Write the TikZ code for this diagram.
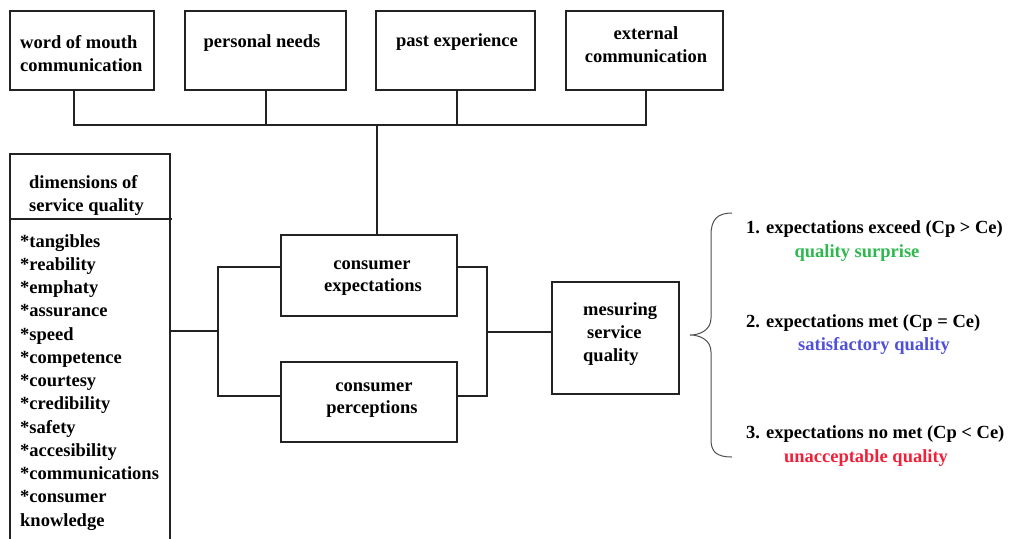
\documentclass[tikz,border=0pt]{standalone}
\usepackage{fontspec}
\setmainfont{Liberation Serif}
\definecolor{qgreen}{HTML}{2FB84F}
\definecolor{qblue}{HTML}{5050D8}
\definecolor{qred}{HTML}{F0203A}
\definecolor{ln}{HTML}{222222}
\begin{document}
\begin{tikzpicture}[x=1pt,y=-1pt,
  box/.style={draw=ln,line width=1.2pt,inner sep=0,fill=none},
  wire/.style={draw=ln,line width=1.2pt},
  lbl/.style={anchor=base,inner sep=0,font=\fontsize{18.5}{23}\selectfont\bfseries},
  lbw/.style={lbl,anchor=base west}]
\useasboundingbox (0,0) rectangle (1011,538);
% top boxes
\node[box,minimum width=144pt,minimum height=79pt] (b1) at (82,50.5) {};
\node[box,minimum width=161pt,minimum height=79pt] (b2) at (265.5,50.5) {};
\node[box,minimum width=159pt,minimum height=79pt] (b3) at (455.5,50.5) {};
\node[box,minimum width=157pt,minimum height=79pt] (b4) at (644.5,50.5) {};
\node[lbw] (t1a) at (20,48) {word of mouth};
\node[lbw] (t1b) at (20,71) {communication};
\node[lbl] (t2) at (262,47) {personal needs};
\node[lbl] (t3) at (457,46) {past experience};
\node[lbl] (t4a) at (646,39) {external};
\node[lbl] (t4b) at (646,62) {communication};
% joins
\coordinate (d1) at (74,125);
\coordinate (d2) at (266,125);
\coordinate (d3) at (457,125);
\coordinate (d4) at (646,125);
\coordinate (dm) at (377,125);
\draw[wire] (b1.south -| d1) -- (d1) -- (d4) -- (b4.south -| d4);
\draw[wire] (b2.south -| d2) -- (d2);
\draw[wire] (b3.south -| d3) -- (d3);
% dimensions box
\node[box,minimum width=160pt,minimum height=391pt] (dim) at (90,349.5) {};
\coordinate (hs) at (172,219);
\draw[wire] (dim.west |- hs) -- (hs);
\node[lbw] (h1) at (29,188) {dimensions of};
\node[lbw] (h2) at (29,211) {service quality};
\foreach \t [count=\i from 0] in {*tangibles,*reability,*emphaty,*assurance,*speed,*competence,*courtesy,*credibility,*safety,*accesibility,*communications,*consumer,knowledge}
  \node[lbw] (li\i) at (20,{247+23.25*\i}) {\t};
% consumer boxes
\node[box,minimum width=176pt,minimum height=81pt] (ce) at (369,275.5) {};
\node[box,minimum width=176pt,minimum height=80pt] (cp) at (369,402) {};
\node[lbl] (ce1) at (372,269) {consumer};
\node[lbl] (ce2) at (373,291) {expectations};
\node[lbl] (cp1) at (374,391) {consumer};
\node[lbl] (cp2) at (372,413) {perceptions};
\draw[wire] (ce.north -| dm) -- (dm);
% left bracket
\coordinate (lj) at (218,331);
\coordinate (ljt) at (218,267);
\coordinate (ljb) at (218,396);
\draw[wire] (dim.east |- lj) -- (lj);
\draw[wire] (ce.west |- ljt) -- (ljt) -- (ljb) -- (cp.west |- ljb);
% right bracket
\coordinate (rj) at (487,332);
\coordinate (rjt) at (487,267);
\coordinate (rjb) at (487,396);
\draw[wire] (ce.east |- rjt) -- (rjt) -- (rjb) -- (cp.east |- rjb);
% measuring
\node[box,minimum width=127pt,minimum height=112pt] (ms) at (615.5,338) {};
\draw[wire] (rj) -- (ms.west |- rj);
\node[lbw] (m1) at (583,315) {mesuring};
\node[lbw] (m2) at (587,338) {service};
\node[lbw] (m3) at (583,361) {quality};
% brace
\draw[draw=ln!80,line width=1pt] (732,213) .. controls (717,213) and (711,220) .. (711,235) -- (711,318) .. controls (711,330) and (700,335) .. (690,335) .. controls (700,335) and (711,340) .. (711,352) -- (711,440) .. controls (711,452) and (717,457) .. (732,457);
% outcomes
\node[lbw] (r1) at (746,233) {1. expectations exceed (Cp > Ce)};
\node[lbl,text=qgreen] (r1b) at (857,257) {quality surprise};
\node[lbw] (r2) at (746,327) {2. expectations met (Cp = Ce)};
\node[lbl,text=qblue] (r2b) at (874,350) {satisfactory quality};
\node[lbw] (r3) at (746,438) {3. expectations no met (Cp < Ce)};
\node[lbl,text=qred] (r3b) at (866,462) {unacceptable quality};
\end{tikzpicture}
\end{document}
